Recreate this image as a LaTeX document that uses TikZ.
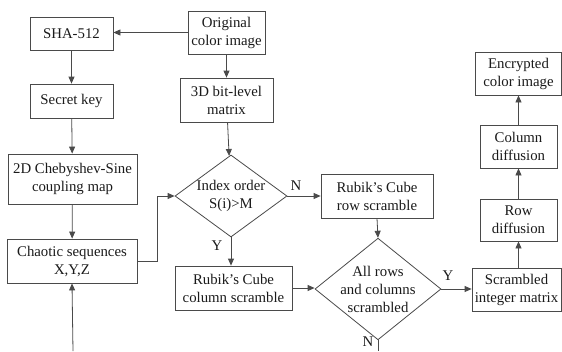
\documentclass[tikz,border=0pt]{standalone}
\usepackage{fontspec}
\setmainfont{Liberation Serif}
\usepackage{xcolor}
\usetikzlibrary{positioning,arrows.meta,shapes.geometric}
\definecolor{linegrey}{HTML}{4A4A4A}
\definecolor{textblack}{HTML}{1A1A1A}

\begin{document}
\begin{tikzpicture}[
    x=1pt, y=-1pt,
    every node/.style={font=\fontsize{14.8}{18}\selectfont, align=center, text=textblack},
    box/.style={draw=linegrey, line width=0.8pt, rectangle, inner sep=2pt},
    decide/.style={draw=linegrey, line width=0.8pt, diamond, inner sep=-5pt},
    arr/.style={draw=linegrey, line width=0.8pt, -{Triangle[length=7pt,width=6pt]}},
    lne/.style={draw=linegrey, line width=0.8pt},
    yn/.style={inner sep=1pt}
  ]
  \useasboundingbox (0,0) rectangle (562,351);

  % ---- colonne gauche : cle et carte chaotique ---------------------------
  \node[box, minimum width=83pt, minimum height=33pt] (sha) at (71.5,33.5) {SHA-512};
  \node[box, minimum width=83pt, minimum height=34pt] (key) at (71.5,101) {Secret key};
  \node[box, minimum width=129pt, minimum height=50pt] (cheby) at (72.5,179)
    {2D Chebyshev-Sine\\coupling map};
  \node[box, minimum width=130pt, minimum height=44pt] (chaos) at (72,261)
    {Chaotic sequences\\X,Y,Z};
  \coordinate (chaosin) at (73,351);

  % ---- colonne centrale : image et brouillage -----------------------------
  \node[box, minimum width=77pt, minimum height=43pt] (orig) at (226.5,32.5)
    {Original\\color image};
  \node[box, minimum width=93pt, minimum height=44pt] (bit) at (226.5,100)
    {3D bit-level\\matrix};
  \node[decide, minimum width=112pt, minimum height=82pt] (idx) at (231,196)
    {Index order\\S(i)>M};
  \node[box, minimum width=117pt, minimum height=44pt] (colsc) at (233.5,288)
    {Rubik's Cube\\column scramble};
  \node[box, minimum width=112pt, minimum height=44pt] (rowsc) at (377,196)
    {Rubik's Cube\\row scramble};
  \node[decide, minimum width=126pt, minimum height=90pt] (done) at (378,289)
    {All rows\\and columns\\scrambled};
  \coordinate (doneout) at (378,351);

  % ---- colonne droite : diffusion ----------------------------------------
  \node[box, minimum width=89pt, minimum height=43pt] (scr) at (516.5,289.5)
    {Scrambled\\integer matrix};
  \node[box, minimum width=77pt, minimum height=42pt] (rdiff) at (518.5,220)
    {Row\\diffusion};
  \node[box, minimum width=77pt, minimum height=43pt] (cdiff) at (518.5,146.5)
    {Column\\diffusion};
  \node[box, minimum width=86pt, minimum height=43pt] (enc) at (518.5,73.5)
    {Encrypted\\color image};

  % ---- etiquettes Y / N ----------------------------------------------------
  \node[yn] (idxy) at (217,246) {Y};
  \node[yn] (idxn) at (296,186) {N};
  \node[yn] (doney) at (448,276) {Y};
  \node[yn] (donen) at (368,342) {N};

  % ---- connexions ----------------------------------------------------------
  \draw[arr] (orig.west) -- (orig.west -| sha.east);
  \draw[arr] (sha) -- (key);
  \draw[arr] (key) -- (cheby);
  \draw[arr] (cheby) -- (chaos);
  \draw[arr] (chaosin) -- (chaos.south);
  \draw[arr] (chaos.east) -- ++(20,0) |- (idx.west);
  \draw[arr] (orig) -- (bit);
  \draw[arr] (bit) -- (idx);
  \draw[arr] (idx.south) -- (idx.south |- colsc.north);
  \draw[arr] (idx.east) -- (rowsc.west);
  \draw[arr] (rowsc.south) -- (done.north);
  \draw[arr] (colsc.east) -- (colsc.east -| done.west);
  \draw[arr] (done.east) -- (done.east -| scr.west);
  \draw[lne] (done.south) -- (doneout);
  \draw[arr] (scr.north -| rdiff.south) -- (rdiff.south);
  \draw[arr] (rdiff) -- (cdiff);
  \draw[arr] (cdiff) -- (enc);

\end{tikzpicture}
\end{document}
